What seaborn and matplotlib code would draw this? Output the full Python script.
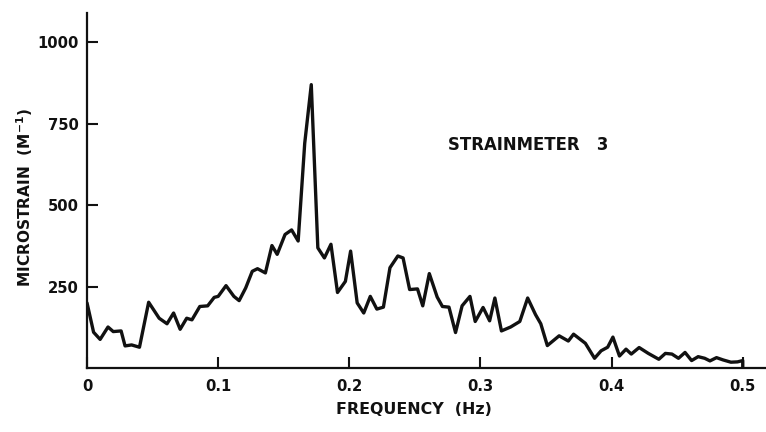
import matplotlib
matplotlib.use("Agg")
import matplotlib.pyplot as plt
from matplotlib import font_manager
import seaborn as sns
import pandas as pd

# Strain spectrum of strainmeter 3
frequency = [
    0.000, 0.005, 0.010, 0.016, 0.020, 0.026, 0.029, 0.034, 0.040, 0.047,
    0.055, 0.061, 0.066, 0.071, 0.076, 0.080, 0.086, 0.092, 0.097, 0.100,
    0.106, 0.112, 0.116, 0.121, 0.126, 0.130, 0.136, 0.141, 0.145, 0.151,
    0.156, 0.161, 0.166, 0.171, 0.176, 0.181, 0.186, 0.191, 0.197, 0.201,
    0.206, 0.211, 0.216, 0.221, 0.226, 0.231, 0.237, 0.241, 0.246, 0.252,
    0.256, 0.261, 0.267, 0.271, 0.276, 0.281, 0.286, 0.292, 0.296, 0.302,
    0.307, 0.311, 0.316, 0.323, 0.330, 0.336, 0.342, 0.346, 0.351, 0.360,
    0.367, 0.371, 0.380, 0.387, 0.392, 0.397, 0.401, 0.406, 0.411, 0.415,
    0.421, 0.428, 0.436, 0.441, 0.446, 0.451, 0.456, 0.461, 0.466, 0.471,
    0.475, 0.480, 0.485, 0.491, 0.496, 0.500, 0.500,
]
microstrain = [
    200, 110, 88, 126, 112, 114, 68, 71, 64, 202,
    153, 136, 169, 119, 153, 148, 189, 191, 217, 220,
    253, 220, 207, 246, 297, 305, 292, 376, 349, 410,
    424, 390, 690, 870, 369, 338, 380, 232, 266, 359,
    200, 169, 220, 181, 187, 308, 344, 338, 241, 243,
    191, 290, 218, 189, 187, 109, 191, 220, 143, 186,
    145, 215, 114, 126, 143, 215, 164, 136, 69, 99,
    83, 104, 76, 30, 53, 64, 95, 37, 58, 43,
    63, 45, 27, 45, 43, 30, 48, 23, 35, 30,
    22, 32, 25, 18, 19, 23, 0,
]

x_ticks = [0, 0.1, 0.2, 0.3, 0.4, 0.5]
x_tick_labels = ["0", "0.1", "0.2", "0.3", "0.4", "0.5"]
y_ticks = [250, 500, 750, 1000]
y_tick_labels = ["250", "500", "750", "1000"]

df = pd.DataFrame({"freq": frequency, "strain": microstrain})

sns.set_style("ticks")

# narrow bold lettering if the condensed face is installed
try:
    font_manager.findfont(font_manager.FontProperties(family="Liberation Sans Narrow",
                                                      weight="bold"),
                          fallback_to_default=False)
    family, scale = "Liberation Sans Narrow", 1.0
except Exception:
    family, scale = "DejaVu Sans", 0.82
plt.rcParams["font.family"] = [family, "DejaVu Sans"]
plt.rcParams["font.weight"] = "bold"
plt.rcParams["mathtext.fontset"] = "custom"
plt.rcParams["mathtext.rm"] = family
plt.rcParams["mathtext.bf"] = family + ":bold"

ink = "#111111"

fig = plt.figure(figsize=(7.66, 4.32), dpi=100)
ax = fig.add_axes([0.1136, 0.148, 0.886, 0.822])

sns.lineplot(data=df, x="freq", y="strain", ax=ax, color=ink,
             linewidth=2.4, estimator=None, sort=False)

ax.set_xlim(0, 0.5175)
ax.set_ylim(0, 1090)
ax.set_xticks(x_ticks)
ax.set_xticklabels(x_tick_labels)
ax.set_yticks(y_ticks)
ax.set_yticklabels(y_tick_labels)

for side in ("top", "right"):
    ax.spines[side].set_visible(False)
for side in ("left", "bottom"):
    ax.spines[side].set_linewidth(1.6)
    ax.spines[side].set_color(ink)

ax.tick_params(axis="both", direction="in", length=8, width=1.5,
               colors=ink, labelsize=13 * scale)
ax.tick_params(axis="x", pad=8)
ax.tick_params(axis="y", pad=6)
for lbl in ax.get_xticklabels() + ax.get_yticklabels():
    lbl.set_fontweight("bold")

ax.set_xlabel("FREQUENCY  (Hz)", fontsize=14 * scale, fontweight="bold", color=ink)
ax.xaxis.set_label_coords(0.4816, -0.118)
ax.xaxis.label.set_verticalalignment("center")
ax.set_ylabel(r"MICROSTRAIN  (M$^{\mathbf{-1}}$)", fontsize=13.5 * scale,
              fontweight="bold", color=ink)
ax.yaxis.set_label_coords(-0.0913, 0.479)
ax.yaxis.label.set_verticalalignment("center")

ax.text(0.275, 685, "STRAINMETER   3", fontsize=14.5 * scale, fontweight="bold",
        ha="left", va="center", color=ink)

fig.savefig("out.png", dpi=100)
